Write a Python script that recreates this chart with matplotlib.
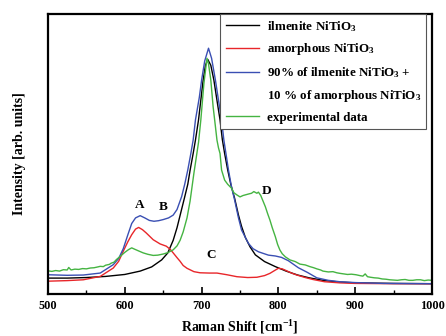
import matplotlib
matplotlib.use("Agg")
import matplotlib.pyplot as plt
from matplotlib.lines import Line2D
from matplotlib.ticker import MultipleLocator

plt.rcParams['font.family'] = ['Liberation Serif', 'DejaVu Serif']
plt.rcParams['font.weight'] = 'bold'
plt.rcParams['mathtext.fontset'] = 'custom'
plt.rcParams['mathtext.rm'] = 'Liberation Serif:bold'
plt.rcParams['mathtext.default'] = 'rm'

# ilmenite NiTiO3 (black)
ilm_x = [500, 525, 550, 575, 600, 620, 635, 648, 656, 663, 668, 673, 678, 682, 685, 689, 692, 696, 702, 705, 708,
         712, 716, 720, 724, 727, 730, 734, 738, 743, 748, 752, 757, 763, 770, 782, 796, 810, 825, 840, 860, 880,
         900, 950, 1000]
ilm_y = [0.055, 0.055, 0.057, 0.061, 0.068, 0.080, 0.095, 0.120, 0.145, 0.190, 0.235, 0.290, 0.345, 0.390, 0.440,
         0.500, 0.548, 0.620, 0.762, 0.815, 0.836, 0.815, 0.762, 0.690, 0.620, 0.550, 0.500, 0.441, 0.390, 0.340,
         0.280, 0.240, 0.200, 0.167, 0.138, 0.114, 0.096, 0.080, 0.066, 0.056, 0.046, 0.041, 0.038, 0.036, 0.035]

# amorphous NiTiO3 (red)
amo_x = [500, 525, 546, 568, 585, 592, 598, 604, 609, 614, 618, 623, 628, 637, 646, 654, 659, 663, 668, 672, 676,
         681, 690, 698, 710, 720, 733, 746, 760, 772, 782, 789, 795, 800, 805, 810, 818, 824, 835, 845, 860, 880,
         900, 950, 1000]
amo_y = [0.044, 0.046, 0.049, 0.061, 0.091, 0.115, 0.151, 0.185, 0.210, 0.230, 0.236, 0.228, 0.216, 0.192, 0.177,
         0.169, 0.158, 0.145, 0.128, 0.115, 0.100, 0.090, 0.078, 0.074, 0.073, 0.073, 0.067, 0.060, 0.057, 0.058,
         0.064, 0.072, 0.082, 0.090, 0.088, 0.082, 0.072, 0.066, 0.057, 0.050, 0.042, 0.038, 0.036, 0.035, 0.035]

# 90% ilmenite + 10% amorphous (blue)
mix_x = [500, 525, 546, 568, 585, 592, 598, 604, 609, 614, 620, 626, 632, 638, 644, 650, 657, 663, 668, 674, 678,
         682, 686, 689, 692, 697, 700, 704, 709, 713, 718, 722, 726, 729, 735, 739, 743, 748, 752, 757, 761, 767,
         774, 787, 796, 804, 813, 826, 838, 850, 865, 880, 900, 937, 1000]
mix_y = [0.067, 0.065, 0.066, 0.073, 0.103, 0.125, 0.160, 0.210, 0.250, 0.270, 0.278, 0.270, 0.261, 0.258, 0.260,
         0.264, 0.270, 0.280, 0.300, 0.346, 0.390, 0.441, 0.500, 0.548, 0.620, 0.700, 0.762, 0.830, 0.876, 0.840,
         0.762, 0.690, 0.620, 0.548, 0.441, 0.380, 0.334, 0.270, 0.227, 0.200, 0.179, 0.160, 0.149, 0.137, 0.134,
         0.129, 0.117, 0.092, 0.075, 0.056, 0.047, 0.042, 0.039, 0.036, 0.035]

# experimental data (green)
exp_x = [500, 505, 510, 515, 520, 525, 527, 530, 535, 540, 545, 550, 555, 560, 565, 568, 572, 575, 580, 582, 586,
         589, 595, 600, 605, 609, 613, 618, 624, 630, 637, 643, 650, 656, 663, 668, 672, 676, 681, 685, 690, 696,
         699, 703, 707, 709, 712, 715, 717, 720, 722, 724, 726, 730, 734, 739, 742, 746, 750, 754, 758, 762, 765,
         768, 772, 774, 777, 780, 783, 786, 789, 792, 796, 799, 802, 805, 809, 815, 822, 828, 835, 841, 846, 850,
         855, 858, 865, 871, 876, 880, 885, 890, 895, 901, 906, 910, 913, 916, 920, 925, 930, 935, 940, 945, 950,
         955, 960, 965, 970, 975, 980, 985, 990, 995, 1000]
exp_y = [0.081, 0.079, 0.082, 0.080, 0.085, 0.084, 0.093, 0.084, 0.087, 0.086, 0.089, 0.088, 0.091, 0.092, 0.095,
         0.097, 0.096, 0.101, 0.104, 0.108, 0.112, 0.121, 0.135, 0.147, 0.157, 0.163, 0.158, 0.152, 0.145, 0.140,
         0.136, 0.137, 0.141, 0.146, 0.156, 0.170, 0.190, 0.220, 0.270, 0.330, 0.430, 0.540, 0.620, 0.750, 0.840,
         0.820, 0.762, 0.667, 0.620, 0.548, 0.520, 0.500, 0.441, 0.405, 0.390, 0.376, 0.360, 0.352, 0.345, 0.350,
         0.353, 0.356, 0.358, 0.364, 0.358, 0.362, 0.350, 0.330, 0.310, 0.285, 0.262, 0.235, 0.203, 0.175, 0.155,
         0.142, 0.131, 0.120, 0.114, 0.105, 0.102, 0.096, 0.092, 0.088, 0.084, 0.080, 0.077, 0.078, 0.074, 0.072,
         0.070, 0.068, 0.069, 0.067, 0.064, 0.062, 0.070, 0.060, 0.058, 0.056, 0.055, 0.052, 0.051, 0.049, 0.048,
         0.047, 0.049, 0.050, 0.047, 0.047, 0.049, 0.049, 0.046, 0.048, 0.047]

labels = ['ilmenite NiTiO$_3$', 'amorphous NiTiO$_3$', '90% of ilmenite NiTiO$_3$ +',
          '10 % of amorphous NiTiO$_3$', 'experimental data']
peak_names = ['A', 'B', 'C', 'D']
peak_x = [620, 650, 713, 785]
peak_y = [0.316, 0.309, 0.137, 0.367]

fig = plt.figure(figsize=(4.46, 3.36), dpi=100)
ax = fig.add_axes([48 / 446, 42.5 / 336, 384 / 446, 280 / 336])

l1, = ax.plot(ilm_x, ilm_y, color='black', lw=1.0)
l2, = ax.plot(amo_x, amo_y, color='#e8262a', lw=1.0)
l3, = ax.plot(mix_x, mix_y, color='#3a4fb3', lw=1.0)
l4, = ax.plot(exp_x, exp_y, color='#45b442', lw=1.0)
blank = Line2D([], [], color='none')

for name, px, py in zip(peak_names, peak_x, peak_y):
    ax.text(px, py, name, fontsize=9.5, fontweight='bold', ha='center', va='center')

ax.set_xlim(500, 1000)
ax.set_ylim(0, 1)
ax.set_yticks([])
ax.xaxis.set_major_locator(MultipleLocator(100))
ax.xaxis.set_minor_locator(MultipleLocator(50))
ax.tick_params(axis='x', which='major', direction='in', length=5, width=1.2, labelsize=8.8, pad=5)
ax.tick_params(axis='x', which='minor', direction='in', length=3, width=1.0)
for s in ax.spines.values():
    s.set_linewidth(1.6)

ax.set_xlabel('Raman Shift [cm$^{-1}$]', fontsize=10, fontweight='bold', labelpad=4)
ax.set_ylabel('Intensity [arb. units]', fontsize=10, fontweight='bold', labelpad=16)

leg = ax.legend([l1, l2, l3, blank, l4], labels, loc='upper right', bbox_to_anchor=(0.985, 1.0),
                borderaxespad=0, fancybox=False, edgecolor='#555555', framealpha=1,
                prop={'size': 9.4, 'weight': 'bold'}, handlelength=2.6, handletextpad=0.55,
                labelspacing=0.6, borderpad=0.4)
leg.get_frame().set_linewidth(0.8)

fig.savefig('out.png', dpi=100)
